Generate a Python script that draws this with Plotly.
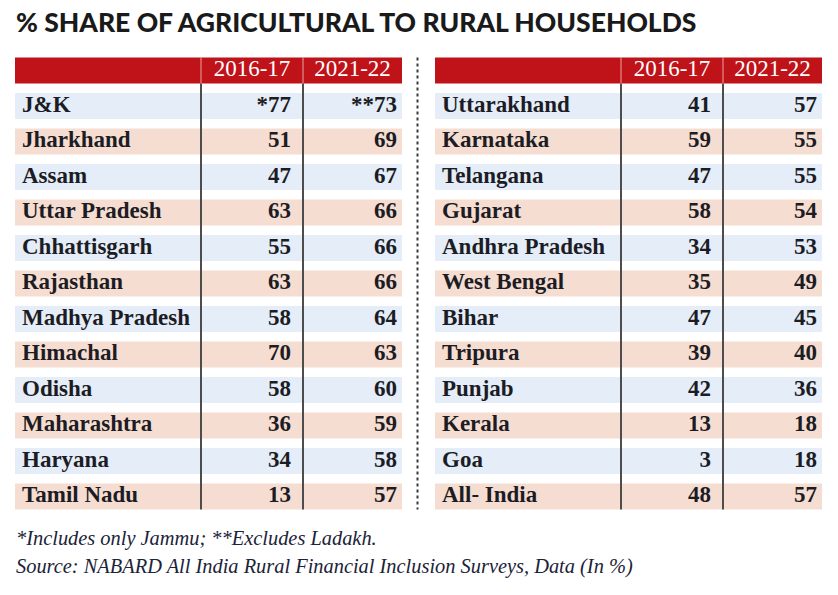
import plotly.graph_objects as go

# ---------------- data ----------------
title_text = "% SHARE OF AGRICULTURAL TO RURAL HOUSEHOLDS"
year_labels = ["2016-17", "2021-22"]

left_states = ["J&K", "Jharkhand", "Assam", "Uttar Pradesh", "Chhattisgarh", "Rajasthan",
               "Madhya Pradesh", "Himachal", "Odisha", "Maharashtra", "Haryana", "Tamil Nadu"]
left_1617 = [77, 51, 47, 63, 55, 63, 58, 70, 58, 36, 34, 13]
left_2122 = [73, 69, 67, 66, 66, 66, 64, 63, 60, 59, 58, 57]
left_1617_mark = ["*", "", "", "", "", "", "", "", "", "", "", ""]
left_2122_mark = ["**", "", "", "", "", "", "", "", "", "", "", ""]

right_states = ["Uttarakhand", "Karnataka", "Telangana", "Gujarat", "Andhra Pradesh", "West Bengal",
                "Bihar", "Tripura", "Punjab", "Kerala", "Goa", "All- India"]
right_1617 = [41, 59, 47, 58, 34, 35, 47, 39, 42, 13, 3, 48]
right_2122 = [57, 55, 55, 54, 53, 49, 45, 40, 36, 18, 18, 57]
right_1617_mark = [""] * 12
right_2122_mark = [""] * 12

footnote_1 = "*Includes only Jammu; **Excludes Ladakh."
footnote_2 = "Source: NABARD All India Rural Financial Inclusion Surveys, Data (In %)"

# ---------------- style ----------------
W, H = 838, 595
RED = "#c01219"
BLUE_ROW = "#e4edf8"
PINK_ROW = "#f6ddd1"
TEXT = "#1c1c24"
LINE = "#4d4d4d"
SERIF = "Liberation Serif, Times New Roman, serif"
TABLE_W = 387           # table width in axis units (px)
COL1, COL2 = 186, 288   # column separators
BAND = 0.73

fig = go.Figure()


def add_table(xa, ya, states, v1, v2, m1, m2):
    n = len(states)
    idx = list(range(n))
    colors = [BLUE_ROW if i % 2 == 0 else PINK_ROW for i in idx]
    # row bands
    fig.add_trace(go.Bar(x=[TABLE_W] * n, y=idx, base=0, orientation="h", width=BAND,
                         marker=dict(color=colors, line=dict(width=0)),
                         xaxis=xa, yaxis=ya, hoverinfo="skip", showlegend=False))
    # header band
    fig.add_trace(go.Bar(x=[TABLE_W], y=[-1], base=0, orientation="h", width=BAND,
                         marker=dict(color=RED, line=dict(width=0)),
                         xaxis=xa, yaxis=ya, hoverinfo="skip", showlegend=False))
    for cx in (COL1, COL2):
        # header light separators
        fig.add_trace(go.Scatter(x=[cx, cx], y=[-1 - BAND / 2, -1 + BAND / 2], mode="lines",
                                 line=dict(color="#e9a3a3", width=1),
                                 xaxis=xa, yaxis=ya, hoverinfo="skip", showlegend=False))
        # body separators
        fig.add_trace(go.Scatter(x=[cx, cx], y=[-1 + BAND / 2, n - 1 + BAND / 2], mode="lines",
                                 line=dict(color=LINE, width=2),
                                 xaxis=xa, yaxis=ya, hoverinfo="skip", showlegend=False))
    # header text
    fig.add_trace(go.Scatter(x=[(COL1 + COL2) / 2, (COL2 + TABLE_W) / 2], y=[-1, -1],
                             mode="text", text=year_labels, textposition="middle center",
                             textfont=dict(family=SERIF, size=23, color="white"),
                             xaxis=xa, yaxis=ya, hoverinfo="skip", showlegend=False))
    # labels
    fig.add_trace(go.Scatter(x=[7] * n, y=idx, mode="text", text=states,
                             textposition="middle right",
                             textfont=dict(family=SERIF, size=23, color=TEXT, weight="bold"),
                             xaxis=xa, yaxis=ya, hoverinfo="skip", showlegend=False))
    # values
    fig.add_trace(go.Scatter(x=[COL2 - 12] * n, y=idx, mode="text",
                             text=[m + str(v) for m, v in zip(m1, v1)],
                             textposition="middle left",
                             textfont=dict(family=SERIF, size=23, color=TEXT, weight="bold"),
                             xaxis=xa, yaxis=ya, hoverinfo="skip", showlegend=False))
    fig.add_trace(go.Scatter(x=[TABLE_W - 5] * n, y=idx, mode="text",
                             text=[m + str(v) for m, v in zip(m2, v2)],
                             textposition="middle left",
                             textfont=dict(family=SERIF, size=23, color=TEXT, weight="bold"),
                             xaxis=xa, yaxis=ya, hoverinfo="skip", showlegend=False))


add_table("x", "y", left_states, left_1617, left_2122, left_1617_mark, left_2122_mark)
add_table("x2", "y", right_states, right_1617, right_2122, right_1617_mark, right_2122_mark)

top_px, bot_px = 52.75, 514.25
ydom = [1 - bot_px / H, 1 - top_px / H]
axis_common = dict(showgrid=False, zeroline=False, showticklabels=False, ticks="", showline=False,
                   fixedrange=True)
fig.update_layout(
    width=W, height=H,
    margin=dict(l=0, r=0, t=0, b=0),
    paper_bgcolor="white", plot_bgcolor="white",
    barmode="overlay",
    xaxis=dict(domain=[15 / W, 402 / W], range=[0, TABLE_W], **axis_common),
    xaxis2=dict(domain=[435 / W, 822 / W], range=[0, TABLE_W], anchor="y", **axis_common),
    yaxis=dict(domain=ydom, range=[11.5, -1.5], **axis_common),
    showlegend=False,
    shapes=[dict(type="line", xref="paper", yref="y", x0=417.5 / W, x1=417.5 / W,
                 y0=-1 - BAND / 2, y1=11 + BAND / 2,
                 line=dict(color="#3a3a3a", width=2, dash="dot"))],
    annotations=[
        dict(text=title_text, x=14 / W, y=1 - 22 / H, xref="paper", yref="paper",
             xanchor="left", yanchor="middle", showarrow=False,
             font=dict(family="Liberation Sans Narrow, Lato, Liberation Sans, sans-serif",
                       size=26.5, color="#1a1a1a", weight=900)),
        dict(text="<i>" + footnote_1 + "</i>", x=14 / W, y=1 - 538 / H, xref="paper", yref="paper",
             xanchor="left", yanchor="middle", showarrow=False,
             font=dict(family=SERIF, size=20.4, color="#1b2338")),
        dict(text="<i>" + footnote_2 + "</i>", x=14 / W, y=1 - 566 / H, xref="paper", yref="paper",
             xanchor="left", yanchor="middle", showarrow=False,
             font=dict(family=SERIF, size=20.4, color="#1b2338")),
    ],
)

fig.write_html("out.html", config={"displayModeBar": False},
               post_script="document.body.style.margin='0';document.body.style.padding='0';")
